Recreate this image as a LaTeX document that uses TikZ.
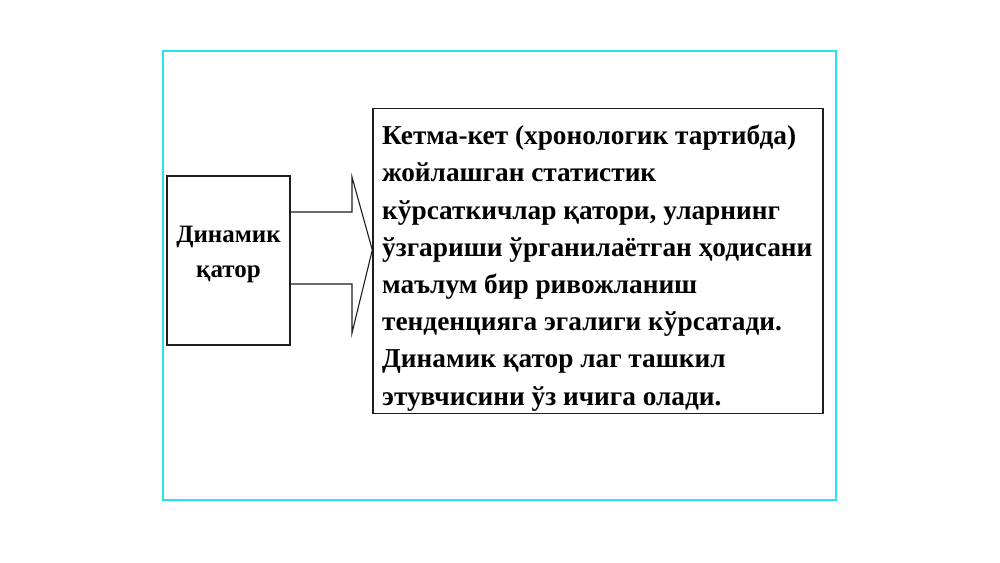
\documentclass[tikz,border=0pt]{standalone}
\usepackage{fontspec}
\setmainfont{Liberation Serif}
\definecolor{framecyan}{RGB}{40,225,235}
\definecolor{boxline}{RGB}{30,30,30}
\begin{document}
\begin{tikzpicture}[x=1pt,y=-1pt,
  boxstyle/.style={draw=boxline,line width=1.4pt,inner sep=0pt},
  arrowline/.style={draw=boxline,line width=1.1pt,line join=miter},
  bodytext/.style={font=\bfseries\fontsize{27.3}{37.2}\selectfont,align=left,anchor=north west,inner sep=0pt}]
\useasboundingbox (0,0) rectangle (1000,562);
\draw[framecyan,line width=1.3pt] (163,51) rectangle (836,500);
\node[boxstyle,minimum width=123pt,minimum height=169pt] (left) at (228.5,260.5) {};
\node[font=\bfseries\fontsize{25}{35}\selectfont,align=center] (lefttext) at (228.5,254) {Динамик\\қатор};
\node[boxstyle,minimum width=450pt,minimum height=305pt] (right) at (598,261) {};
\node[bodytext] (body) at (382,125) {Кетма-кет (хронологик тартибда)\\жойлашган статистик\\кўрсаткичлар қатори, уларнинг\\ўзгариши ўрганилаётган ҳодисани\\маълум бир ривожланиш\\тенденцияга эгалиги кўрсатади.\\Динамик қатор лаг ташкил\\этувчисини ўз ичига олади.};
\coordinate (a1) at (left.east |- 0,212);
\coordinate (a2) at (352,212);
\coordinate (a3) at (352,177);
\coordinate (tip) at (right.west |- 0,250);
\coordinate (a5) at (352,333);
\coordinate (a6) at (352,284);
\coordinate (a7) at (left.east |- 0,284);
\draw[arrowline] (a1) -- (a2) -- (a3) -- (tip) -- (a5) -- (a6) -- (a7);
\end{tikzpicture}
\end{document}
